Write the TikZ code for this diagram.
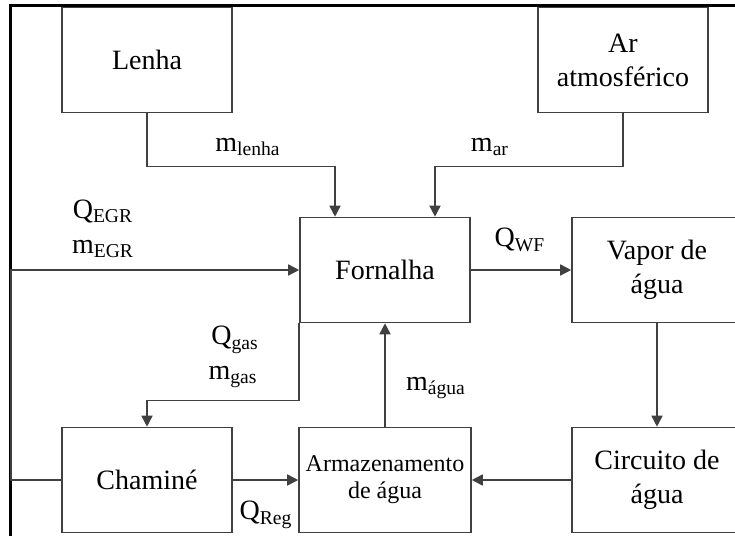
\documentclass[tikz,border=0pt]{standalone}
\usepackage{fontspec}
\setmainfont{Liberation Serif}
\usetikzlibrary{arrows.meta}

\tikzset{
  caixa/.style={rectangle, draw=black!75, line width=0.8pt, minimum width=85pt,
    minimum height=52.5pt, align=center, font=\fontsize{14}{17}\selectfont},
  seta/.style={arrows={-{Triangle[length=5.5pt,width=5.5pt]}}, draw=black!75, line width=0.8pt},
  rotulo/.style={inner sep=0pt, font=\fontsize{14}{17}\selectfont},
}

\begin{document}
\begin{tikzpicture}[x=0.5pt, y=-0.5pt]

\useasboundingbox (0,0) rectangle (735,536);
\clip (0,0) rectangle (735,536);

% Moldura
\draw[line width=1.5pt] (10,536) -- (10,5) -- (735,5);

% Linha superior
\node[caixa] (lenha) at (147,60) {Lenha};
\node[caixa] (ar) at (623,60) {Ar\\atmosférico};

% Linha do meio
\node[caixa] (fornalha) at (385,270) {Fornalha};
\node[caixa] (vapor) at (657,270) {Vapor de\\água};

% Linha inferior
\node[caixa] (chamine) at (147,480) {Chaminé};
\node[caixa, font=\fontsize{12}{13.5}\selectfont] (armaz) at (385,480) {Armazenamento\\de água};
\node[caixa] (circuito) at (657,480) {Circuito de\\água};

% Entradas da fornalha
\draw[seta] (lenha.south) -- ++(0,53) -| ([xshift=-25pt]fornalha.north);
\draw[seta] (ar.south) -- ++(0,53) -| ([xshift=25pt]fornalha.north);
\draw[seta] (chamine.west) -- ++(-50,0) |- (fornalha.west);
\draw[seta] (armaz.north) -- (fornalha.south);

% Saidas
\draw[seta] (fornalha.east) -- (vapor.west);
\draw[seta] (vapor.south) -- (circuito.north);
\draw[seta] (circuito.west) -- (armaz.east);
\draw[seta] (fornalha.south west) -- ++(0,77) -| (chamine.north);
\draw[seta] (chamine.east) -- (armaz.west);

% Rotulos
\node[rotulo] (mlenha) at (248,147) {m\textsubscript{lenha}};
\node[rotulo] (mar) at (490,147) {m\textsubscript{ar}};
\node[rotulo] (qegr) at (103,211) {Q\textsubscript{EGR}};
\node[rotulo] (megr) at (103,249) {m\textsubscript{EGR}};
\node[rotulo] (qwf) at (520,240) {Q\textsubscript{WF}};
\node[rotulo] (qgas) at (235,340) {Q\textsubscript{gas}};
\node[rotulo] (mgas) at (233,377) {m\textsubscript{gas}};
\node[rotulo] (magua) at (436,388) {m\textsubscript{água}};
\node[rotulo] (qreg) at (266,515) {Q\textsubscript{Reg}};

\end{tikzpicture}
\end{document}
